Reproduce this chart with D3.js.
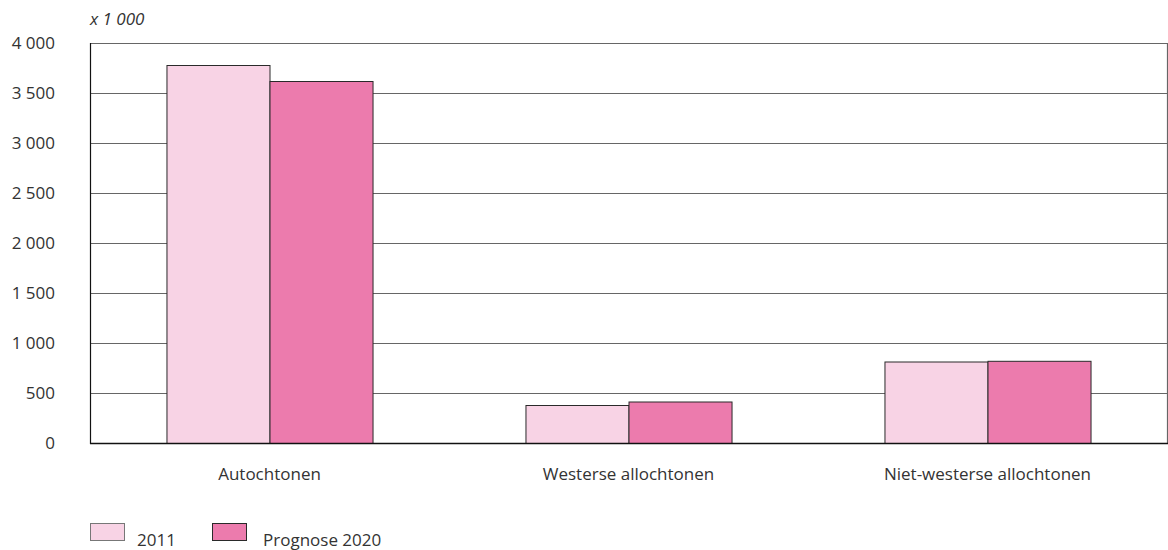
<!DOCTYPE html>
<html><head><meta charset="utf-8">
<script src="https://cdn.jsdelivr.net/npm/d3@7"></script>
<style>body{margin:0;background:#fff}text{font-family:"Open Sans",sans-serif;fill:#333}</style>
</head><body>
<svg id="c" width="1168" height="550"></svg>
<script>
const categories = ["Autochtonen", "Westerse allochtonen", "Niet-westerse allochtonen"];
const seriesNames = ["2011", "Prognose 2020"];
const values2011 = [3780, 380, 815];
const values2020 = [3620, 415, 822];
const yTicks = [0, 500, 1000, 1500, 2000, 2500, 3000, 3500, 4000];
const colors = ["#f8d3e5", "#ec7bad"];

const svg = d3.select("#c");
const m = {l: 90, r: 1167, t: 43, b: 443};
const x = d3.scaleBand().domain(categories).range([m.l, m.r]).paddingInner(0.426).paddingOuter(0.213);
const xs = d3.scaleBand().domain(seriesNames).range([0, x.bandwidth()]);
const y = d3.scaleLinear().domain([0, 4000]).range([m.b, m.t]);
const fmt = v => d3.format(",")(v).replace(/,/g, " ");

// grid
svg.append("g").selectAll("line").data(yTicks.filter(d => d > 0)).join("line")
  .attr("x1", m.l).attr("x2", m.r).attr("y1", d => y(d) + 0.5).attr("y2", d => y(d) + 0.5)
  .attr("stroke", "#666").attr("stroke-width", 1.2);
// right border
svg.append("line").attr("x1", m.r + 0.5).attr("x2", m.r + 0.5).attr("y1", m.t).attr("y2", m.b).attr("stroke", "#666").attr("stroke-width", 1.2);

const data = [values2011, values2020];
categories.forEach((c, i) => {
  seriesNames.forEach((s, j) => {
    const v = data[j][i];
    svg.append("rect").attr("x", x(c) + xs(s) + 0.5).attr("y", y(v) + 0.5)
      .attr("width", xs.bandwidth()).attr("height", y(0) - y(v))
      .attr("fill", colors[j]).attr("stroke", "#2a2a2a").attr("stroke-width", 1);
  });
});

// axes lines
svg.append("line").attr("x1", m.l + 0.5).attr("x2", m.l + 0.5).attr("y1", m.t).attr("y2", m.b + 1).attr("stroke", "#111").attr("stroke-width", 1.2);
svg.append("line").attr("x1", m.l).attr("x2", m.r + 1).attr("y1", m.b + 0.5).attr("y2", m.b + 0.5).attr("stroke", "#111").attr("stroke-width", 1.5);

// y labels
svg.append("g").selectAll("text").data(yTicks).join("text")
  .attr("x", 55).attr("y", d => y(d) + 6).attr("text-anchor", "end")
  .style("font-size", "17px").text(fmt);
svg.append("text").attr("x", 90).attr("y", 25).style("font-size", "17px").style("font-style", "italic").text("x 1 000");

// x labels
svg.append("g").selectAll("text").data(categories).join("text")
  .attr("x", d => x(d) + x.bandwidth() / 2).attr("y", 480).attr("text-anchor", "middle")
  .style("font-size", "17px").text(d => d);

// legend
const lg = [{x: 90, tx: 137}, {x: 212, tx: 263}];
seriesNames.forEach((s, j) => {
  svg.append("rect").attr("x", lg[j].x + 0.5).attr("y", 523.5).attr("width", 34).attr("height", 17)
    .attr("fill", colors[j]).attr("stroke", j ? "#2a2a2a" : "#777");
  svg.append("text").attr("x", lg[j].tx).attr("y", 546).style("font-size", "17px").text(s);
});
</script>
</body></html>
